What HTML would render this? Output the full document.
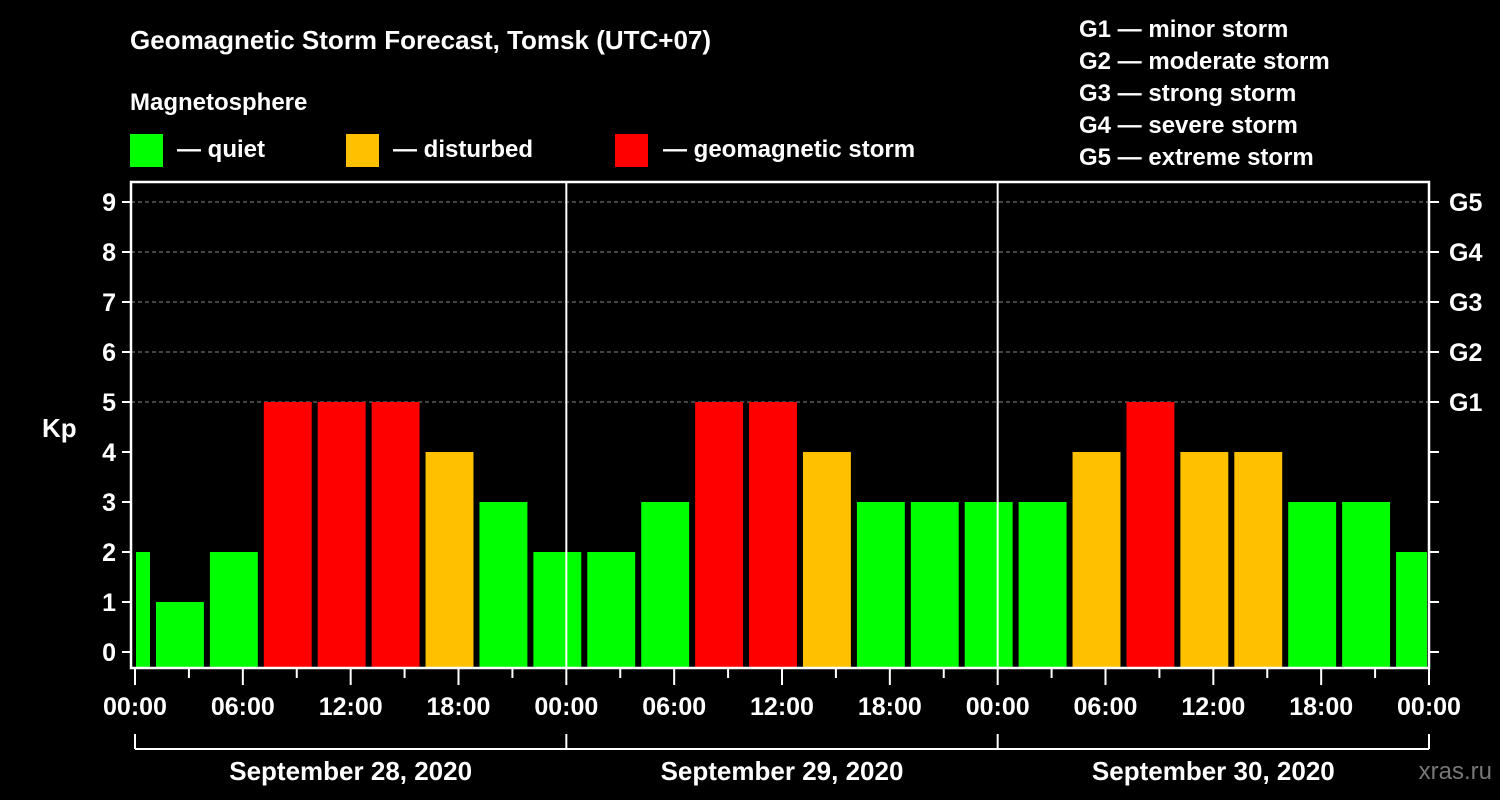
<!DOCTYPE html>
<html><head><meta charset="utf-8"><style>
html,body{margin:0;padding:0;background:#000;}
svg{display:block;font-family:"Liberation Sans",Arial,sans-serif;font-weight:bold;}
</style></head><body>
<svg id="chart" width="1500" height="800" viewBox="0 0 1500 800">
<rect width="1500" height="800" fill="#000"/>
<text x="130" y="49" fill="#fff" font-size="26">Geomagnetic Storm Forecast, Tomsk (UTC+07)</text>
<text x="130" y="110" fill="#fff" font-size="24">Magnetosphere</text>
<g><rect x="130" y="134" width="33" height="33" fill="#00ff00"/><text x="177" y="157" fill="#fff" font-size="24">— quiet</text></g>
<g><rect x="346" y="134" width="33" height="33" fill="#ffc000"/><text x="393" y="157" fill="#fff" font-size="24">— disturbed</text></g>
<g><rect x="615" y="134" width="33" height="33" fill="#ff0000"/><text x="663" y="157" fill="#fff" font-size="24">— geomagnetic storm</text></g>
<g fill="#fff" font-size="24">
<text x="1079" y="37">G1 — minor storm</text>
<text x="1079" y="69">G2 — moderate storm</text>
<text x="1079" y="101">G3 — strong storm</text>
<text x="1079" y="133">G4 — severe storm</text>
<text x="1079" y="165">G5 — extreme storm</text>
</g>
<text x="42" y="437" fill="#fff" font-size="26">Kp</text>
<text x="1492" y="779" fill="#777" font-size="24" text-anchor="end" font-weight="normal">xras.ru</text>
<g id="plot"></g>
</svg>
<script>
const kpValues = [2,1,2,5,5,5,4,3,2, 2,3,5,5,4,3,3,3, 3,4,5,4,4,3,3,2];
const startHour = -2;
const blockHours = 3;
const yTicks = [0,1,2,3,4,5,6,7,8,9];
const gLabels = ["G1","G2","G3","G4","G5"];
const gLevels = [5,6,7,8,9];
const xTickLabels = ["00:00","06:00","12:00","18:00","00:00","06:00","12:00","18:00","00:00","06:00","12:00","18:00","00:00"];
const dayLabels = ["September 28, 2020","September 29, 2020","September 30, 2020"];

const L=131,R=1429,T=182,B=668, X0=135, dayW=(1429-135)/3;
const x = h => X0 + h*dayW/24;
const y = v => 652 - 50*v;
const NS="http://www.w3.org/2000/svg";
const plot=document.getElementById('plot');
function mk(tag,attrs,parent){const e=document.createElementNS(NS,tag);for(const k in attrs)e.setAttribute(k,attrs[k]);(parent||plot).appendChild(e);return e;}
function color(v){return v>=5?"#ff0000":(v>=4?"#ffc000":"#00ff00");}

// grid lines
gLevels.forEach(v=>{
  const g=mk('line',{x1:L,x2:R,y1:y(v),y2:y(v),stroke:'#888','stroke-width':1,'stroke-dasharray':'4,3'});
  
  
});
// bars
kpValues.forEach((v,i)=>{
  const h0=startHour+i*blockHours;
  let x1=Math.max(x(h0)+3,L+5), x2=Math.min(x(h0+blockHours)-3,R-2);
  const r=mk('rect',{x:x1,y:y(v),width:x2-x1,height:B-y(v),fill:color(v)});
  
  
});
// day separators
[1,2].forEach(d=>{
  const l=mk('line',{x1:x(d*24),x2:x(d*24),y1:T,y2:B,stroke:'#fff','stroke-width':2});
  
  
});
// frame
const fr=mk('rect',{x:L,y:T,width:R-L,height:B-T,fill:'none',stroke:'#fff','stroke-width':2.5});


// y ticks
yTicks.forEach(v=>{
  mk('line',{x1:122,x2:L,y1:y(v),y2:y(v),stroke:'#fff','stroke-width':2});
  mk('line',{x1:R,x2:R+10,y1:y(v),y2:y(v),stroke:'#fff','stroke-width':2});
  const t=mk('text',{x:116,y:y(v)+9,fill:'#fff','font-size':25,'text-anchor':'end'});
  t.textContent=v;
  
  
});
gLabels.forEach((g,i)=>{
  const t=mk('text',{x:1449,y:y(gLevels[i])+9,fill:'#fff','font-size':25});
  t.textContent=g;
  
  
});
// x ticks
for(let h=0;h<=72;h+=3){
  const major=h%6===0;
  mk('line',{x1:x(h),x2:x(h),y1:B,y2:major?685:678,stroke:'#fff','stroke-width':2});
}
xTickLabels.forEach((s,i)=>{
  const t=mk('text',{x:x(i*6),y:715,fill:'#fff','font-size':25,'text-anchor':'middle'});
  t.textContent=s;
  
  
});
// date bracket
mk('line',{x1:X0,x2:R,y1:749,y2:749,stroke:'#fff','stroke-width':2});
for(let d=0;d<=3;d++) mk('line',{x1:x(d*24),x2:x(d*24),y1:734,y2:749,stroke:'#fff','stroke-width':2});
dayLabels.forEach((s,i)=>{
  const t=mk('text',{x:x(i*24+12),y:780,fill:'#fff','font-size':26,'text-anchor':'middle'});
  t.textContent=s;
  
  
});
</script>
</body></html>
